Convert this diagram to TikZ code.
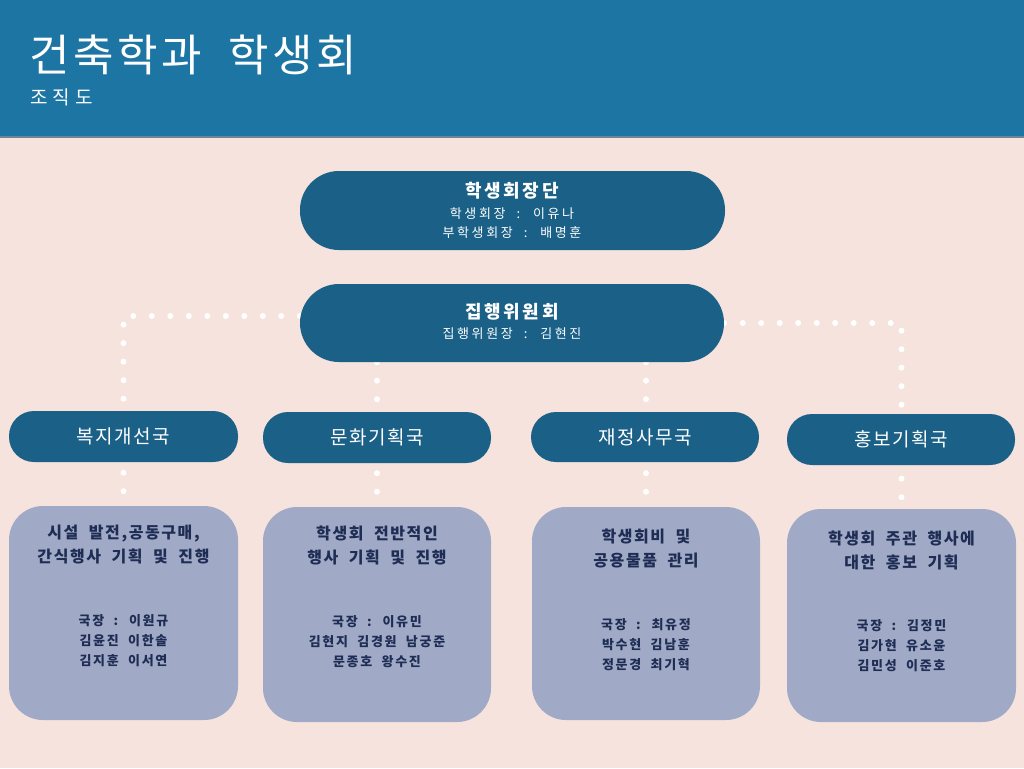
\documentclass[tikz,border=0pt]{standalone}
\usepackage{fontspec}
\usetikzlibrary{backgrounds,calc}
\newfontfamily\krTitle[LetterSpace=8]{Noto Sans CJK KR}
\newfontfamily\krSub[LetterSpace=28]{Noto Sans CJK KR}
\newfontfamily\krHead[LetterSpace=15]{Noto Sans CJK KR}
\newfontfamily\krSmall[LetterSpace=20,WordSpace=2]{Noto Sans CJK KR}
\newfontfamily\krDept[LetterSpace=8]{Noto Sans CJK KR}
\newfontfamily\krBox[LetterSpace=10,WordSpace=2]{Noto Sans CJK KR}
\newfontfamily\krMem[LetterSpace=13,WordSpace=2]{Noto Sans CJK KR}
\definecolor{bgc}{HTML}{F6E3DD}
\definecolor{hdr}{HTML}{1D75A3}
\definecolor{hdrline}{HTML}{6A8799}
\definecolor{darkbox}{HTML}{1A6087}
\definecolor{lightbox}{HTML}{A0AAC6}
\definecolor{navytext}{HTML}{1F2D55}
\tikzset{
  pillbox/.style={fill=darkbox, inner sep=0pt, text=white},
  deptbox/.style={pillbox, rounded corners=25pt, font=\krDept\fontsize{19}{22}\selectfont},
  subbox/.style={fill=lightbox, inner sep=0pt, rounded corners=34pt},
  wtitle/.style={text=white, inner sep=0pt, font=\krHead\bfseries\fontsize{18}{20}\selectfont},
  wsmall/.style={text=white, inner sep=0pt, font=\krSmall\fontsize{13}{15}\selectfont},
  btitle/.style={text=navytext, inner sep=0pt, align=center, font=\krBox\bfseries\fontsize{16}{24}\selectfont},
  bmem/.style={text=navytext, inner sep=0pt, align=center, font=\krMem\bfseries\fontsize{13}{20}\selectfont},
  dotline/.style={draw=white, line width=6pt, line cap=round, dash pattern=on 0pt off 18.5pt},
}
\begin{document}
\begin{tikzpicture}[x=1pt,y=-1pt]
\useasboundingbox (0,0) rectangle (1024,768);
% boxes
\node[pillbox, minimum width=425pt, minimum height=79pt, rounded corners=39pt] (lead) at (512.5,210.5) {};
\node[pillbox, minimum width=424pt, minimum height=78pt, rounded corners=39pt] (exec) at (512,323) {};
\node[deptbox, minimum width=229pt, minimum height=51pt] (d1) at (123.5,436.5) {복지개선국};
\node[deptbox, minimum width=228pt, minimum height=51pt] (d2) at (377,437.5) {문화기획국};
\node[deptbox, minimum width=228pt, minimum height=50pt] (d3) at (645,437) {재정사무국};
\node[deptbox, minimum width=228pt, minimum height=51pt] (d4) at (901,439.5) {홍보기획국};
\node[subbox, minimum width=229pt, minimum height=214pt] (s1) at (123.5,613) {};
\node[subbox, minimum width=228pt, minimum height=215pt] (s2) at (377,614.5) {};
\node[subbox, minimum width=228pt, minimum height=213pt] (s3) at (646,613.5) {};
\node[subbox, minimum width=229pt, minimum height=213pt] (s4) at (901.5,615.5) {};
% texts
\node[text=white, anchor=base west, inner sep=0pt, font=\krTitle\fontsize{44}{48}\selectfont] (title) at (29,71) {건축학과\hspace{0.6em}학생회};
\node[text=white, anchor=base west, inner sep=0pt, font=\krSub\fontsize{19}{21}\selectfont] (subtitle) at (30,104) {조직도};
\node[wtitle, anchor=base] (leadT) at (512,197) {학생회장단};
\node[wsmall, anchor=base] (leadA) at (512,218) {학생회장 : 이유나};
\node[wsmall, anchor=base] (leadB) at (512,237) {부학생회장 : 배명훈};
\node[wtitle, anchor=base] (execT) at (512,318) {집행위원회};
\node[wsmall, anchor=base] (execA) at (512,338) {집행위원장 : 김현진};
\node[btitle] (t1) at ($(s1.north)+(0,39)$) {시설 발전,공동구매,\\간식행사 기획 및 진행};
\node[btitle] (t2) at ($(s2.north)+(0,39)$) {학생회 전반적인\\행사 기획 및 진행};
\node[btitle] (t3) at ($(s3.north)+(0,42)$) {학생회비 및\\공용물품 관리};
\node[btitle] (t4) at ($(s4.north)+(0,42)$) {학생회 주관 행사에\\대한 홍보 기획};
\node[bmem] (m1) at ($(s1.north)+(0,135)$) {국장 : 이원규\\김윤진 이한솔\\김지훈 이서연};
\node[bmem] (m2) at ($(s2.north)+(0,135)$) {국장 : 이유민\\김현지 김경원 남궁준\\문종호 왕수진};
\node[bmem] (m3) at ($(s3.north)+(0,138)$) {국장 : 최유정\\박수현 김남훈\\정문경 최기혁};
\node[bmem] (m4) at ($(s4.north)+(0,137)$) {국장 : 김정민\\김가현 유소윤\\김민성 이준호};
\begin{scope}[on background layer]
  \fill[bgc] (0,0) rectangle (1024,768);
  \fill[hdr] (0,0) rectangle (1024,136);
  \draw[hdrline, line width=2pt] (0,137) -- (1024,137);
  \draw[dotline] ([yshift=7pt]exec.west) -| (s1.north);
  \draw[dotline] (exec.east) -| (s4.north);
  \draw[dotline] (exec.south -| s2.north) -- (s2.north);
  \draw[dotline] (exec.south -| s3.north) -- (s3.north);
\end{scope}
\end{tikzpicture}
\end{document}
